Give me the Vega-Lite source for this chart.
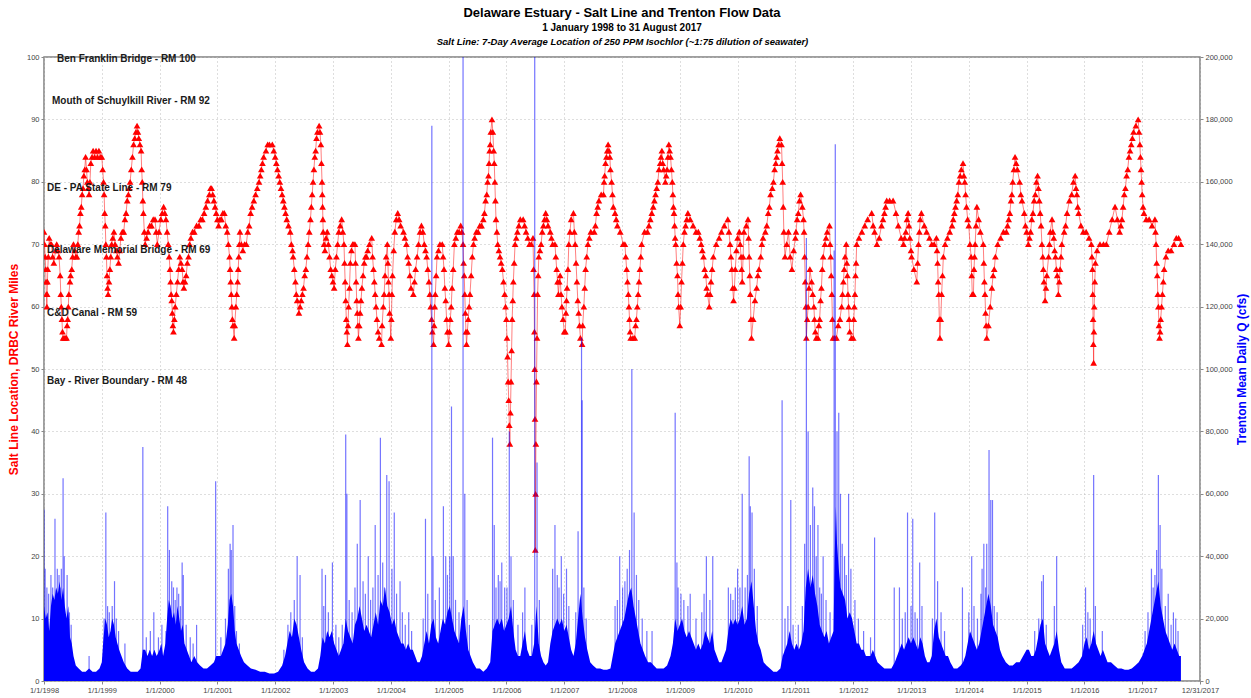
{
"$schema":"https://vega.github.io/schema/vega-lite/v6.json",
"width":1156,"height":624,
"autosize":{"type":"none"},
"padding":{"left":44,"top":57,"right":51,"bottom":17},
"background":"white",
"title":{"text":"Delaware Estuary - Salt Line and Trenton Flow Data","subtitle":"1 January 1998 to 31 August 2017","font":"Liberation Sans","fontSize":13,"fontWeight":"bold","color":"#000","subtitleFont":"Liberation Sans","subtitleFontSize":10,"subtitleFontWeight":"bold","subtitleColor":"#000","anchor":"middle","offset":3,"subtitlePadding":3},
"config":{"view":{"stroke":"#808080","strokeWidth":1.5},"font":"Liberation Sans",
"axis":{"labelFont":"Liberation Sans","labelFontSize":7.5,"labelColor":"#444","tickColor":"#888","tickSize":3,"domain":false,"gridColor":"#bdbdbd","gridDash":[1,3],"gridWidth":1,"titleFont":"Liberation Sans","titleFontWeight":"bold"}},
"datasets":{
"labels":[{"name":"Ben Franklin Bridge - RM 100","rm":100},{"name":"Mouth of Schuylkill River - RM 92","rm":92},{"name":"DE - PA State Line - RM 79","rm":79},{"name":"Delaware Memorial Bridge - RM 69","rm":69},{"name":"C&D Canal - RM 59","rm":59},{"name":"Bay - River Boundary - RM 48","rm":48}],
"salt":[{"t":1998.00,"s":72},{"t":1998.01,"s":70},{"t":1998.02,"s":68},{"t":1998.03,"s":66},{"t":1998.035,"s":64},{"t":1998.04,"s":62},{"t":1998.05,"s":60},{"t":1998.055,"s":62},{"t":1998.06,"s":64},{"t":1998.065,"s":66},{"t":1998.075,"s":68},{"t":1998.09,"s":71},{"t":1998.11,"s":70},{"t":1998.13,"s":70},{"t":1998.15,"s":68},{"t":1998.17,"s":67},{"t":1998.20,"s":69},{"t":1998.22,"s":70},{"t":1998.24,"s":69},{"t":1998.26,"s":68},{"t":1998.28,"s":65},{"t":1998.29,"s":62},{"t":1998.30,"s":60},{"t":1998.31,"s":58},{"t":1998.32,"s":56},{"t":1998.33,"s":55},{"t":1998.35,"s":55},{"t":1998.37,"s":55},{"t":1998.39,"s":55},{"t":1998.40,"s":57},{"t":1998.41,"s":58},{"t":1998.42,"s":60},{"t":1998.43,"s":62},{"t":1998.45,"s":64},{"t":1998.46,"s":65},{"t":1998.48,"s":66},{"t":1998.495,"s":68},{"t":1998.51,"s":70},{"t":1998.53,"s":69},{"t":1998.55,"s":68},{"t":1998.57,"s":68},{"t":1998.585,"s":70},{"t":1998.60,"s":72},{"t":1998.615,"s":73},{"t":1998.63,"s":75},{"t":1998.645,"s":76},{"t":1998.66,"s":78},{"t":1998.675,"s":79},{"t":1998.69,"s":81},{"t":1998.705,"s":82},{"t":1998.72,"s":84},{"t":1998.735,"s":82},{"t":1998.75,"s":80},{"t":1998.765,"s":79},{"t":1998.78,"s":78},{"t":1998.795,"s":80},{"t":1998.81,"s":83},{"t":1998.83,"s":84},{"t":1998.85,"s":85},{"t":1998.875,"s":84},{"t":1998.90,"s":85},{"t":1998.925,"s":84},{"t":1998.95,"s":85},{"t":1998.975,"s":84},{"t":1999.00,"s":84},{"t":1999.015,"s":82},{"t":1999.03,"s":80},{"t":1999.04,"s":78},{"t":1999.05,"s":75},{"t":1999.06,"s":73},{"t":1999.07,"s":70},{"t":1999.08,"s":68},{"t":1999.09,"s":65},{"t":1999.10,"s":63},{"t":1999.11,"s":62},{"t":1999.125,"s":64},{"t":1999.14,"s":66},{"t":1999.155,"s":68},{"t":1999.17,"s":70},{"t":1999.19,"s":71},{"t":1999.21,"s":72},{"t":1999.23,"s":70},{"t":1999.25,"s":69},{"t":1999.27,"s":68},{"t":1999.29,"s":67},{"t":1999.31,"s":69},{"t":1999.33,"s":71},{"t":1999.355,"s":72},{"t":1999.38,"s":72},{"t":1999.40,"s":74},{"t":1999.42,"s":75},{"t":1999.44,"s":77},{"t":1999.46,"s":78},{"t":1999.475,"s":79},{"t":1999.49,"s":80},{"t":1999.51,"s":82},{"t":1999.53,"s":84},{"t":1999.55,"s":86},{"t":1999.57,"s":87},{"t":1999.59,"s":88},{"t":1999.61,"s":89},{"t":1999.625,"s":88},{"t":1999.64,"s":87},{"t":1999.66,"s":86},{"t":1999.68,"s":85},{"t":1999.69,"s":82},{"t":1999.70,"s":80},{"t":1999.71,"s":77},{"t":1999.72,"s":75},{"t":1999.735,"s":72},{"t":1999.75,"s":70},{"t":1999.775,"s":71},{"t":1999.80,"s":72},{"t":1999.83,"s":73},{"t":1999.86,"s":73},{"t":1999.89,"s":74},{"t":1999.92,"s":74},{"t":1999.94,"s":72},{"t":1999.96,"s":70},{"t":1999.99,"s":72},{"t":2000.02,"s":74},{"t":2000.045,"s":75},{"t":2000.07,"s":76},{"t":2000.09,"s":75},{"t":2000.11,"s":74},{"t":2000.13,"s":72},{"t":2000.15,"s":70},{"t":2000.165,"s":68},{"t":2000.18,"s":66},{"t":2000.19,"s":64},{"t":2000.20,"s":62},{"t":2000.21,"s":61},{"t":2000.22,"s":59},{"t":2000.23,"s":57},{"t":2000.24,"s":56},{"t":2000.255,"s":58},{"t":2000.27,"s":60},{"t":2000.29,"s":62},{"t":2000.31,"s":64},{"t":2000.33,"s":66},{"t":2000.35,"s":68},{"t":2000.37,"s":67},{"t":2000.39,"s":66},{"t":2000.405,"s":64},{"t":2000.42,"s":63},{"t":2000.44,"s":64},{"t":2000.46,"s":65},{"t":2000.48,"s":67},{"t":2000.50,"s":68},{"t":2000.52,"s":70},{"t":2000.54,"s":71},{"t":2000.57,"s":72},{"t":2000.60,"s":72},{"t":2000.64,"s":73},{"t":2000.68,"s":73},{"t":2000.71,"s":74},{"t":2000.74,"s":74},{"t":2000.77,"s":75},{"t":2000.80,"s":76},{"t":2000.83,"s":77},{"t":2000.86,"s":78},{"t":2000.88,"s":79},{"t":2000.90,"s":79},{"t":2000.92,"s":78},{"t":2000.94,"s":77},{"t":2000.96,"s":76},{"t":2000.98,"s":75},{"t":2001.00,"s":74},{"t":2001.02,"s":73},{"t":2001.045,"s":74},{"t":2001.07,"s":74},{"t":2001.095,"s":75},{"t":2001.12,"s":75},{"t":2001.145,"s":73},{"t":2001.17,"s":72},{"t":2001.19,"s":70},{"t":2001.21,"s":68},{"t":2001.22,"s":66},{"t":2001.23,"s":64},{"t":2001.24,"s":62},{"t":2001.25,"s":60},{"t":2001.26,"s":58},{"t":2001.27,"s":57},{"t":2001.29,"s":55},{"t":2001.30,"s":57},{"t":2001.32,"s":60},{"t":2001.335,"s":62},{"t":2001.35,"s":64},{"t":2001.36,"s":66},{"t":2001.37,"s":68},{"t":2001.38,"s":70},{"t":2001.39,"s":72},{"t":2001.415,"s":70},{"t":2001.44,"s":69},{"t":2001.47,"s":70},{"t":2001.50,"s":70},{"t":2001.525,"s":72},{"t":2001.55,"s":73},{"t":2001.575,"s":75},{"t":2001.60,"s":76},{"t":2001.63,"s":77},{"t":2001.66,"s":78},{"t":2001.69,"s":79},{"t":2001.72,"s":80},{"t":2001.74,"s":81},{"t":2001.76,"s":82},{"t":2001.78,"s":83},{"t":2001.80,"s":84},{"t":2001.84,"s":85},{"t":2001.87,"s":86},{"t":2001.90,"s":86},{"t":2001.95,"s":86},{"t":2001.975,"s":85},{"t":2002.00,"s":84},{"t":2002.02,"s":83},{"t":2002.04,"s":82},{"t":2002.06,"s":81},{"t":2002.08,"s":80},{"t":2002.10,"s":79},{"t":2002.12,"s":78},{"t":2002.14,"s":77},{"t":2002.16,"s":76},{"t":2002.18,"s":75},{"t":2002.20,"s":74},{"t":2002.23,"s":73},{"t":2002.26,"s":72},{"t":2002.28,"s":70},{"t":2002.30,"s":69},{"t":2002.31,"s":68},{"t":2002.33,"s":66},{"t":2002.35,"s":64},{"t":2002.365,"s":62},{"t":2002.38,"s":61},{"t":2002.41,"s":59},{"t":2002.43,"s":60},{"t":2002.45,"s":61},{"t":2002.47,"s":62},{"t":2002.49,"s":63},{"t":2002.51,"s":65},{"t":2002.53,"s":66},{"t":2002.55,"s":68},{"t":2002.57,"s":70},{"t":2002.59,"s":72},{"t":2002.61,"s":74},{"t":2002.625,"s":76},{"t":2002.64,"s":78},{"t":2002.655,"s":80},{"t":2002.67,"s":82},{"t":2002.685,"s":84},{"t":2002.70,"s":85},{"t":2002.715,"s":87},{"t":2002.73,"s":88},{"t":2002.76,"s":89},{"t":2002.775,"s":88},{"t":2002.79,"s":86},{"t":2002.80,"s":83},{"t":2002.81,"s":80},{"t":2002.815,"s":78},{"t":2002.82,"s":76},{"t":2002.825,"s":74},{"t":2002.83,"s":72},{"t":2002.845,"s":70},{"t":2002.86,"s":69},{"t":2002.88,"s":71},{"t":2002.90,"s":72},{"t":2002.92,"s":70},{"t":2002.94,"s":68},{"t":2002.96,"s":66},{"t":2002.98,"s":65},{"t":2003.00,"s":64},{"t":2003.02,"s":63},{"t":2003.04,"s":66},{"t":2003.06,"s":68},{"t":2003.08,"s":70},{"t":2003.10,"s":72},{"t":2003.125,"s":73},{"t":2003.15,"s":74},{"t":2003.17,"s":72},{"t":2003.19,"s":70},{"t":2003.20,"s":67},{"t":2003.21,"s":64},{"t":2003.22,"s":61},{"t":2003.23,"s":58},{"t":2003.24,"s":56},{"t":2003.25,"s":54},{"t":2003.26,"s":57},{"t":2003.27,"s":60},{"t":2003.285,"s":63},{"t":2003.30,"s":67},{"t":2003.32,"s":69},{"t":2003.34,"s":70},{"t":2003.36,"s":70},{"t":2003.38,"s":70},{"t":2003.39,"s":67},{"t":2003.40,"s":64},{"t":2003.41,"s":61},{"t":2003.42,"s":59},{"t":2003.43,"s":57},{"t":2003.44,"s":55},{"t":2003.455,"s":57},{"t":2003.47,"s":59},{"t":2003.485,"s":61},{"t":2003.50,"s":63},{"t":2003.52,"s":65},{"t":2003.54,"s":67},{"t":2003.56,"s":68},{"t":2003.58,"s":68},{"t":2003.60,"s":69},{"t":2003.63,"s":70},{"t":2003.67,"s":71},{"t":2003.685,"s":68},{"t":2003.70,"s":66},{"t":2003.715,"s":64},{"t":2003.73,"s":62},{"t":2003.745,"s":60},{"t":2003.76,"s":58},{"t":2003.78,"s":56},{"t":2003.80,"s":55},{"t":2003.84,"s":54},{"t":2003.85,"s":57},{"t":2003.87,"s":60},{"t":2003.885,"s":62},{"t":2003.90,"s":65},{"t":2003.92,"s":68},{"t":2003.94,"s":70},{"t":2003.95,"s":67},{"t":2003.96,"s":64},{"t":2003.97,"s":62},{"t":2003.98,"s":59},{"t":2004.00,"s":55},{"t":2004.01,"s":58},{"t":2004.02,"s":62},{"t":2004.03,"s":65},{"t":2004.05,"s":69},{"t":2004.07,"s":72},{"t":2004.095,"s":74},{"t":2004.12,"s":75},{"t":2004.145,"s":74},{"t":2004.17,"s":73},{"t":2004.22,"s":72},{"t":2004.245,"s":71},{"t":2004.27,"s":70},{"t":2004.29,"s":68},{"t":2004.31,"s":67},{"t":2004.33,"s":65},{"t":2004.35,"s":63},{"t":2004.39,"s":62},{"t":2004.41,"s":64},{"t":2004.43,"s":66},{"t":2004.455,"s":68},{"t":2004.48,"s":70},{"t":2004.505,"s":72},{"t":2004.53,"s":73},{"t":2004.555,"s":72},{"t":2004.58,"s":70},{"t":2004.60,"s":69},{"t":2004.62,"s":68},{"t":2004.64,"s":66},{"t":2004.66,"s":64},{"t":2004.675,"s":62},{"t":2004.69,"s":60},{"t":2004.705,"s":58},{"t":2004.72,"s":56},{"t":2004.74,"s":54},{"t":2004.75,"s":57},{"t":2004.76,"s":60},{"t":2004.77,"s":62},{"t":2004.785,"s":65},{"t":2004.80,"s":68},{"t":2004.825,"s":69},{"t":2004.85,"s":70},{"t":2004.89,"s":70},{"t":2004.905,"s":68},{"t":2004.92,"s":66},{"t":2004.935,"s":63},{"t":2004.95,"s":61},{"t":2004.965,"s":58},{"t":2004.98,"s":56},{"t":2005.00,"s":54},{"t":2005.015,"s":56},{"t":2005.03,"s":58},{"t":2005.045,"s":60},{"t":2005.06,"s":63},{"t":2005.08,"s":66},{"t":2005.10,"s":70},{"t":2005.125,"s":71},{"t":2005.15,"s":72},{"t":2005.18,"s":72},{"t":2005.21,"s":73},{"t":2005.23,"s":72},{"t":2005.25,"s":70},{"t":2005.26,"s":67},{"t":2005.27,"s":65},{"t":2005.28,"s":62},{"t":2005.29,"s":59},{"t":2005.30,"s":56},{"t":2005.31,"s":54},{"t":2005.325,"s":56},{"t":2005.34,"s":58},{"t":2005.355,"s":60},{"t":2005.37,"s":62},{"t":2005.39,"s":65},{"t":2005.41,"s":68},{"t":2005.43,"s":70},{"t":2005.45,"s":71},{"t":2005.48,"s":72},{"t":2005.51,"s":72},{"t":2005.54,"s":73},{"t":2005.57,"s":73},{"t":2005.60,"s":74},{"t":2005.62,"s":75},{"t":2005.64,"s":77},{"t":2005.66,"s":78},{"t":2005.675,"s":80},{"t":2005.69,"s":81},{"t":2005.70,"s":83},{"t":2005.71,"s":85},{"t":2005.72,"s":86},{"t":2005.73,"s":88},{"t":2005.75,"s":90},{"t":2005.765,"s":88},{"t":2005.78,"s":85},{"t":2005.79,"s":83},{"t":2005.80,"s":80},{"t":2005.81,"s":77},{"t":2005.82,"s":74},{"t":2005.835,"s":72},{"t":2005.85,"s":70},{"t":2005.87,"s":69},{"t":2005.89,"s":68},{"t":2005.91,"s":67},{"t":2005.93,"s":66},{"t":2005.95,"s":64},{"t":2005.97,"s":62},{"t":2005.985,"s":60},{"t":2006.00,"s":58},{"t":2006.01,"s":55},{"t":2006.02,"s":52},{"t":2006.03,"s":48},{"t":2006.04,"s":45},{"t":2006.05,"s":41},{"t":2006.06,"s":38},{"t":2006.07,"s":43},{"t":2006.08,"s":48},{"t":2006.09,"s":53},{"t":2006.10,"s":58},{"t":2006.11,"s":61},{"t":2006.12,"s":64},{"t":2006.135,"s":67},{"t":2006.15,"s":70},{"t":2006.17,"s":71},{"t":2006.19,"s":72},{"t":2006.215,"s":73},{"t":2006.24,"s":74},{"t":2006.29,"s":74},{"t":2006.315,"s":73},{"t":2006.34,"s":72},{"t":2006.37,"s":71},{"t":2006.40,"s":70},{"t":2006.43,"s":70},{"t":2006.46,"s":71},{"t":2006.47,"s":66},{"t":2006.48,"s":62},{"t":2006.485,"s":56},{"t":2006.49,"s":50},{"t":2006.495,"s":42},{"t":2006.50,"s":21},{"t":2006.505,"s":30},{"t":2006.51,"s":38},{"t":2006.52,"s":48},{"t":2006.53,"s":55},{"t":2006.54,"s":62},{"t":2006.55,"s":65},{"t":2006.56,"s":68},{"t":2006.58,"s":69},{"t":2006.60,"s":70},{"t":2006.62,"s":72},{"t":2006.64,"s":73},{"t":2006.66,"s":74},{"t":2006.68,"s":75},{"t":2006.70,"s":74},{"t":2006.72,"s":73},{"t":2006.76,"s":72},{"t":2006.78,"s":71},{"t":2006.80,"s":70},{"t":2006.84,"s":70},{"t":2006.855,"s":68},{"t":2006.87,"s":66},{"t":2006.885,"s":64},{"t":2006.90,"s":62},{"t":2006.915,"s":64},{"t":2006.93,"s":65},{"t":2006.945,"s":62},{"t":2006.96,"s":60},{"t":2006.98,"s":58},{"t":2007.00,"s":56},{"t":2007.02,"s":56},{"t":2007.03,"s":59},{"t":2007.04,"s":61},{"t":2007.05,"s":63},{"t":2007.065,"s":66},{"t":2007.08,"s":70},{"t":2007.10,"s":72},{"t":2007.12,"s":74},{"t":2007.16,"s":75},{"t":2007.175,"s":72},{"t":2007.19,"s":70},{"t":2007.205,"s":67},{"t":2007.22,"s":64},{"t":2007.235,"s":61},{"t":2007.25,"s":59},{"t":2007.265,"s":57},{"t":2007.28,"s":55},{"t":2007.31,"s":54},{"t":2007.32,"s":57},{"t":2007.34,"s":60},{"t":2007.355,"s":63},{"t":2007.37,"s":66},{"t":2007.39,"s":68},{"t":2007.41,"s":70},{"t":2007.435,"s":71},{"t":2007.46,"s":72},{"t":2007.52,"s":72},{"t":2007.54,"s":73},{"t":2007.56,"s":75},{"t":2007.58,"s":76},{"t":2007.60,"s":77},{"t":2007.64,"s":78},{"t":2007.68,"s":78},{"t":2007.69,"s":80},{"t":2007.70,"s":81},{"t":2007.715,"s":83},{"t":2007.73,"s":84},{"t":2007.745,"s":85},{"t":2007.76,"s":86},{"t":2007.775,"s":85},{"t":2007.79,"s":84},{"t":2007.80,"s":82},{"t":2007.82,"s":80},{"t":2007.835,"s":78},{"t":2007.85,"s":76},{"t":2007.88,"s":75},{"t":2007.90,"s":74},{"t":2007.92,"s":73},{"t":2007.97,"s":72},{"t":2008.02,"s":70},{"t":2008.05,"s":70},{"t":2008.065,"s":68},{"t":2008.08,"s":66},{"t":2008.095,"s":64},{"t":2008.11,"s":62},{"t":2008.12,"s":60},{"t":2008.13,"s":58},{"t":2008.14,"s":56},{"t":2008.15,"s":55},{"t":2008.19,"s":55},{"t":2008.22,"s":55},{"t":2008.235,"s":57},{"t":2008.25,"s":58},{"t":2008.265,"s":60},{"t":2008.28,"s":62},{"t":2008.295,"s":64},{"t":2008.31,"s":66},{"t":2008.325,"s":68},{"t":2008.34,"s":70},{"t":2008.39,"s":72},{"t":2008.44,"s":72},{"t":2008.465,"s":73},{"t":2008.49,"s":74},{"t":2008.515,"s":75},{"t":2008.54,"s":76},{"t":2008.56,"s":77},{"t":2008.58,"s":78},{"t":2008.60,"s":79},{"t":2008.62,"s":80},{"t":2008.64,"s":82},{"t":2008.66,"s":83},{"t":2008.675,"s":84},{"t":2008.69,"s":85},{"t":2008.705,"s":83},{"t":2008.72,"s":82},{"t":2008.75,"s":80},{"t":2008.765,"s":81},{"t":2008.78,"s":82},{"t":2008.795,"s":84},{"t":2008.81,"s":86},{"t":2008.825,"s":85},{"t":2008.84,"s":84},{"t":2008.855,"s":82},{"t":2008.87,"s":80},{"t":2008.88,"s":78},{"t":2008.89,"s":76},{"t":2008.90,"s":75},{"t":2008.91,"s":73},{"t":2008.92,"s":71},{"t":2008.93,"s":70},{"t":2008.945,"s":67},{"t":2008.96,"s":65},{"t":2008.97,"s":62},{"t":2008.98,"s":60},{"t":2009.00,"s":57},{"t":2009.015,"s":60},{"t":2009.03,"s":64},{"t":2009.045,"s":67},{"t":2009.06,"s":70},{"t":2009.08,"s":72},{"t":2009.10,"s":73},{"t":2009.12,"s":74},{"t":2009.14,"s":75},{"t":2009.18,"s":74},{"t":2009.23,"s":73},{"t":2009.28,"s":72},{"t":2009.32,"s":72},{"t":2009.345,"s":71},{"t":2009.37,"s":70},{"t":2009.39,"s":69},{"t":2009.41,"s":68},{"t":2009.43,"s":66},{"t":2009.45,"s":65},{"t":2009.465,"s":63},{"t":2009.48,"s":62},{"t":2009.51,"s":60},{"t":2009.525,"s":62},{"t":2009.54,"s":64},{"t":2009.56,"s":66},{"t":2009.58,"s":68},{"t":2009.63,"s":70},{"t":2009.68,"s":71},{"t":2009.72,"s":72},{"t":2009.77,"s":73},{"t":2009.83,"s":74},{"t":2009.85,"s":72},{"t":2009.87,"s":70},{"t":2009.885,"s":68},{"t":2009.90,"s":66},{"t":2009.915,"s":63},{"t":2009.93,"s":61},{"t":2009.945,"s":63},{"t":2009.96,"s":66},{"t":2009.98,"s":69},{"t":2010.00,"s":71},{"t":2010.03,"s":72},{"t":2010.045,"s":70},{"t":2010.06,"s":68},{"t":2010.07,"s":66},{"t":2010.08,"s":64},{"t":2010.095,"s":68},{"t":2010.11,"s":72},{"t":2010.15,"s":73},{"t":2010.18,"s":74},{"t":2010.19,"s":71},{"t":2010.20,"s":68},{"t":2010.21,"s":65},{"t":2010.22,"s":62},{"t":2010.23,"s":58},{"t":2010.24,"s":55},{"t":2010.27,"s":58},{"t":2010.30,"s":61},{"t":2010.33,"s":63},{"t":2010.35,"s":65},{"t":2010.37,"s":66},{"t":2010.40,"s":68},{"t":2010.42,"s":70},{"t":2010.44,"s":71},{"t":2010.48,"s":72},{"t":2010.505,"s":73},{"t":2010.53,"s":75},{"t":2010.55,"s":76},{"t":2010.57,"s":78},{"t":2010.60,"s":79},{"t":2010.62,"s":80},{"t":2010.64,"s":82},{"t":2010.66,"s":83},{"t":2010.675,"s":84},{"t":2010.69,"s":85},{"t":2010.71,"s":86},{"t":2010.73,"s":87},{"t":2010.76,"s":86},{"t":2010.77,"s":83},{"t":2010.78,"s":80},{"t":2010.79,"s":76},{"t":2010.80,"s":72},{"t":2010.82,"s":68},{"t":2010.85,"s":70},{"t":2010.88,"s":72},{"t":2010.91,"s":68},{"t":2010.94,"s":66},{"t":2010.97,"s":69},{"t":2011.00,"s":71},{"t":2011.01,"s":72},{"t":2011.03,"s":74},{"t":2011.05,"s":75},{"t":2011.07,"s":77},{"t":2011.09,"s":78},{"t":2011.12,"s":76},{"t":2011.14,"s":74},{"t":2011.15,"s":72},{"t":2011.16,"s":68},{"t":2011.17,"s":64},{"t":2011.18,"s":60},{"t":2011.19,"s":55},{"t":2011.205,"s":58},{"t":2011.22,"s":60},{"t":2011.235,"s":63},{"t":2011.25,"s":66},{"t":2011.28,"s":64},{"t":2011.30,"s":62},{"t":2011.32,"s":60},{"t":2011.33,"s":58},{"t":2011.345,"s":56},{"t":2011.36,"s":55},{"t":2011.39,"s":55},{"t":2011.405,"s":57},{"t":2011.42,"s":58},{"t":2011.435,"s":61},{"t":2011.45,"s":63},{"t":2011.465,"s":66},{"t":2011.48,"s":68},{"t":2011.51,"s":70},{"t":2011.53,"s":71},{"t":2011.55,"s":72},{"t":2011.59,"s":73},{"t":2011.60,"s":70},{"t":2011.61,"s":68},{"t":2011.62,"s":65},{"t":2011.63,"s":62},{"t":2011.64,"s":58},{"t":2011.65,"s":55},{"t":2011.68,"s":55},{"t":2011.71,"s":55},{"t":2011.74,"s":57},{"t":2011.77,"s":58},{"t":2011.80,"s":60},{"t":2011.815,"s":62},{"t":2011.83,"s":64},{"t":2011.845,"s":66},{"t":2011.86,"s":68},{"t":2011.88,"s":70},{"t":2011.89,"s":67},{"t":2011.90,"s":65},{"t":2011.91,"s":62},{"t":2011.92,"s":60},{"t":2011.93,"s":58},{"t":2011.94,"s":56},{"t":2011.97,"s":55},{"t":2012.00,"s":55},{"t":2012.01,"s":58},{"t":2012.02,"s":60},{"t":2012.03,"s":62},{"t":2012.04,"s":65},{"t":2012.05,"s":67},{"t":2012.06,"s":70},{"t":2012.10,"s":71},{"t":2012.15,"s":72},{"t":2012.20,"s":73},{"t":2012.25,"s":74},{"t":2012.32,"s":75},{"t":2012.345,"s":73},{"t":2012.37,"s":72},{"t":2012.41,"s":70},{"t":2012.45,"s":71},{"t":2012.49,"s":73},{"t":2012.515,"s":74},{"t":2012.54,"s":75},{"t":2012.56,"s":76},{"t":2012.58,"s":77},{"t":2012.63,"s":77},{"t":2012.69,"s":77},{"t":2012.74,"s":75},{"t":2012.78,"s":73},{"t":2012.83,"s":71},{"t":2012.87,"s":70},{"t":2012.89,"s":71},{"t":2012.91,"s":72},{"t":2012.93,"s":74},{"t":2012.95,"s":75},{"t":2012.965,"s":73},{"t":2012.98,"s":71},{"t":2013.00,"s":69},{"t":2013.01,"s":68},{"t":2013.05,"s":66},{"t":2013.10,"s":64},{"t":2013.115,"s":67},{"t":2013.13,"s":70},{"t":2013.145,"s":72},{"t":2013.16,"s":74},{"t":2013.18,"s":75},{"t":2013.23,"s":73},{"t":2013.27,"s":72},{"t":2013.32,"s":71},{"t":2013.36,"s":70},{"t":2013.40,"s":70},{"t":2013.44,"s":71},{"t":2013.45,"s":69},{"t":2013.46,"s":67},{"t":2013.47,"s":64},{"t":2013.48,"s":62},{"t":2013.49,"s":58},{"t":2013.50,"s":55},{"t":2013.515,"s":58},{"t":2013.53,"s":62},{"t":2013.545,"s":65},{"t":2013.56,"s":68},{"t":2013.59,"s":70},{"t":2013.63,"s":71},{"t":2013.67,"s":72},{"t":2013.71,"s":73},{"t":2013.73,"s":74},{"t":2013.75,"s":75},{"t":2013.77,"s":76},{"t":2013.79,"s":77},{"t":2013.81,"s":78},{"t":2013.83,"s":80},{"t":2013.85,"s":81},{"t":2013.87,"s":82},{"t":2013.90,"s":83},{"t":2013.915,"s":81},{"t":2013.93,"s":80},{"t":2013.945,"s":78},{"t":2013.96,"s":76},{"t":2013.98,"s":74},{"t":2014.00,"s":73},{"t":2014.02,"s":70},{"t":2014.04,"s":68},{"t":2014.05,"s":65},{"t":2014.06,"s":62},{"t":2014.08,"s":62},{"t":2014.09,"s":66},{"t":2014.10,"s":68},{"t":2014.11,"s":70},{"t":2014.125,"s":73},{"t":2014.14,"s":76},{"t":2014.17,"s":74},{"t":2014.20,"s":72},{"t":2014.25,"s":70},{"t":2014.26,"s":67},{"t":2014.27,"s":64},{"t":2014.28,"s":62},{"t":2014.29,"s":59},{"t":2014.30,"s":57},{"t":2014.31,"s":55},{"t":2014.34,"s":57},{"t":2014.37,"s":60},{"t":2014.40,"s":63},{"t":2014.42,"s":65},{"t":2014.44,"s":66},{"t":2014.46,"s":68},{"t":2014.50,"s":70},{"t":2014.55,"s":71},{"t":2014.60,"s":72},{"t":2014.65,"s":72},{"t":2014.67,"s":73},{"t":2014.69,"s":74},{"t":2014.71,"s":75},{"t":2014.73,"s":77},{"t":2014.745,"s":78},{"t":2014.76,"s":80},{"t":2014.78,"s":82},{"t":2014.80,"s":84},{"t":2014.82,"s":83},{"t":2014.84,"s":82},{"t":2014.88,"s":80},{"t":2014.90,"s":78},{"t":2014.92,"s":77},{"t":2014.96,"s":75},{"t":2014.98,"s":73},{"t":2015.00,"s":72},{"t":2015.03,"s":70},{"t":2015.05,"s":71},{"t":2015.07,"s":72},{"t":2015.09,"s":74},{"t":2015.11,"s":75},{"t":2015.13,"s":77},{"t":2015.15,"s":78},{"t":2015.17,"s":80},{"t":2015.19,"s":81},{"t":2015.205,"s":79},{"t":2015.22,"s":77},{"t":2015.235,"s":75},{"t":2015.25,"s":73},{"t":2015.265,"s":70},{"t":2015.28,"s":68},{"t":2015.29,"s":66},{"t":2015.30,"s":64},{"t":2015.32,"s":61},{"t":2015.335,"s":63},{"t":2015.35,"s":65},{"t":2015.38,"s":68},{"t":2015.395,"s":70},{"t":2015.41,"s":72},{"t":2015.44,"s":74},{"t":2015.455,"s":72},{"t":2015.47,"s":71},{"t":2015.485,"s":69},{"t":2015.50,"s":68},{"t":2015.515,"s":66},{"t":2015.53,"s":65},{"t":2015.55,"s":62},{"t":2015.565,"s":64},{"t":2015.58,"s":66},{"t":2015.595,"s":68},{"t":2015.61,"s":70},{"t":2015.65,"s":72},{"t":2015.675,"s":73},{"t":2015.70,"s":75},{"t":2015.74,"s":77},{"t":2015.78,"s":78},{"t":2015.81,"s":80},{"t":2015.84,"s":81},{"t":2015.855,"s":79},{"t":2015.87,"s":78},{"t":2015.885,"s":76},{"t":2015.90,"s":75},{"t":2015.94,"s":73},{"t":2015.98,"s":72},{"t":2016.03,"s":72},{"t":2016.08,"s":71},{"t":2016.12,"s":70},{"t":2016.13,"s":68},{"t":2016.14,"s":66},{"t":2016.145,"s":62},{"t":2016.15,"s":58},{"t":2016.155,"s":54},{"t":2016.16,"s":51},{"t":2016.165,"s":56},{"t":2016.17,"s":60},{"t":2016.18,"s":64},{"t":2016.19,"s":67},{"t":2016.22,"s":69},{"t":2016.27,"s":70},{"t":2016.33,"s":70},{"t":2016.38,"s":70},{"t":2016.43,"s":72},{"t":2016.48,"s":74},{"t":2016.53,"s":76},{"t":2016.57,"s":74},{"t":2016.61,"s":72},{"t":2016.63,"s":73},{"t":2016.65,"s":74},{"t":2016.67,"s":76},{"t":2016.69,"s":78},{"t":2016.71,"s":79},{"t":2016.73,"s":81},{"t":2016.75,"s":82},{"t":2016.77,"s":84},{"t":2016.79,"s":85},{"t":2016.81,"s":86},{"t":2016.83,"s":87},{"t":2016.85,"s":88},{"t":2016.89,"s":89},{"t":2016.93,"s":90},{"t":2016.945,"s":88},{"t":2016.96,"s":86},{"t":2016.97,"s":84},{"t":2016.98,"s":82},{"t":2016.99,"s":80},{"t":2017.00,"s":78},{"t":2017.015,"s":76},{"t":2017.03,"s":75},{"t":2017.07,"s":74},{"t":2017.12,"s":74},{"t":2017.17,"s":73},{"t":2017.22,"s":74},{"t":2017.23,"s":72},{"t":2017.24,"s":70},{"t":2017.25,"s":67},{"t":2017.26,"s":65},{"t":2017.27,"s":62},{"t":2017.28,"s":60},{"t":2017.29,"s":57},{"t":2017.30,"s":55},{"t":2017.31,"s":56},{"t":2017.32,"s":58},{"t":2017.335,"s":60},{"t":2017.35,"s":62},{"t":2017.365,"s":64},{"t":2017.38,"s":66},{"t":2017.41,"s":68},{"t":2017.45,"s":69},{"t":2017.50,"s":69},{"t":2017.55,"s":70},{"t":2017.59,"s":71},{"t":2017.63,"s":71},{"t":2017.67,"s":70}],
"base":[{"t":1998.00,"q":24000},{"t":1998.03,"q":20000},{"t":1998.06,"q":22000},{"t":1998.09,"q":16000},{"t":1998.12,"q":24000},{"t":1998.15,"q":28000},{"t":1998.18,"q":26000},{"t":1998.21,"q":30000},{"t":1998.24,"q":28000},{"t":1998.27,"q":32000},{"t":1998.30,"q":26000},{"t":1998.33,"q":30000},{"t":1998.36,"q":24000},{"t":1998.39,"q":20000},{"t":1998.42,"q":24000},{"t":1998.45,"q":14000},{"t":1998.48,"q":12000},{"t":1998.51,"q":8000},{"t":1998.55,"q":5000},{"t":1998.60,"q":4000},{"t":1998.66,"q":3000},{"t":1998.72,"q":3000},{"t":1998.78,"q":4000},{"t":1998.84,"q":3000},{"t":1998.90,"q":3000},{"t":1998.96,"q":4000},{"t":1999.00,"q":6000},{"t":1999.03,"q":14000},{"t":1999.06,"q":20000},{"t":1999.09,"q":18000},{"t":1999.12,"q":14000},{"t":1999.15,"q":16000},{"t":1999.18,"q":20000},{"t":1999.21,"q":18000},{"t":1999.24,"q":14000},{"t":1999.27,"q":12000},{"t":1999.30,"q":10000},{"t":1999.34,"q":8000},{"t":1999.38,"q":6000},{"t":1999.44,"q":4000},{"t":1999.50,"q":3000},{"t":1999.56,"q":3000},{"t":1999.62,"q":3000},{"t":1999.67,"q":4000},{"t":1999.71,"q":10000},{"t":1999.75,"q":10000},{"t":1999.79,"q":8000},{"t":1999.83,"q":10000},{"t":1999.87,"q":8000},{"t":1999.91,"q":10000},{"t":1999.95,"q":8000},{"t":2000.00,"q":10000},{"t":2000.03,"q":12000},{"t":2000.06,"q":8000},{"t":2000.10,"q":12000},{"t":2000.13,"q":20000},{"t":2000.16,"q":26000},{"t":2000.19,"q":24000},{"t":2000.22,"q":20000},{"t":2000.25,"q":22000},{"t":2000.28,"q":18000},{"t":2000.31,"q":24000},{"t":2000.34,"q":20000},{"t":2000.37,"q":16000},{"t":2000.40,"q":18000},{"t":2000.43,"q":12000},{"t":2000.47,"q":10000},{"t":2000.51,"q":8000},{"t":2000.55,"q":6000},{"t":2000.60,"q":8000},{"t":2000.65,"q":6000},{"t":2000.70,"q":5000},{"t":2000.76,"q":4000},{"t":2000.82,"q":4000},{"t":2000.88,"q":5000},{"t":2000.94,"q":6000},{"t":2000.98,"q":8000},{"t":2001.02,"q":8000},{"t":2001.06,"q":8000},{"t":2001.10,"q":10000},{"t":2001.14,"q":12000},{"t":2001.18,"q":18000},{"t":2001.21,"q":26000},{"t":2001.24,"q":28000},{"t":2001.27,"q":24000},{"t":2001.30,"q":16000},{"t":2001.33,"q":12000},{"t":2001.37,"q":10000},{"t":2001.41,"q":8000},{"t":2001.46,"q":6000},{"t":2001.52,"q":5000},{"t":2001.58,"q":4000},{"t":2001.66,"q":3600},{"t":2001.74,"q":3000},{"t":2001.82,"q":3000},{"t":2001.90,"q":2400},{"t":2001.98,"q":2400},{"t":2002.05,"q":3000},{"t":2002.12,"q":5000},{"t":2002.17,"q":8000},{"t":2002.21,"q":12000},{"t":2002.25,"q":16000},{"t":2002.29,"q":14000},{"t":2002.33,"q":20000},{"t":2002.37,"q":18000},{"t":2002.41,"q":14000},{"t":2002.45,"q":10000},{"t":2002.50,"q":6000},{"t":2002.56,"q":4000},{"t":2002.62,"q":3000},{"t":2002.68,"q":3000},{"t":2002.74,"q":4000},{"t":2002.78,"q":8000},{"t":2002.82,"q":14000},{"t":2002.86,"q":12000},{"t":2002.90,"q":16000},{"t":2002.94,"q":14000},{"t":2002.98,"q":16000},{"t":2003.02,"q":12000},{"t":2003.06,"q":10000},{"t":2003.10,"q":8000},{"t":2003.14,"q":10000},{"t":2003.18,"q":12000},{"t":2003.22,"q":20000},{"t":2003.26,"q":16000},{"t":2003.30,"q":14000},{"t":2003.34,"q":12000},{"t":2003.38,"q":18000},{"t":2003.42,"q":20000},{"t":2003.46,"q":24000},{"t":2003.50,"q":20000},{"t":2003.54,"q":16000},{"t":2003.58,"q":18000},{"t":2003.62,"q":16000},{"t":2003.66,"q":14000},{"t":2003.70,"q":18000},{"t":2003.74,"q":22000},{"t":2003.78,"q":18000},{"t":2003.82,"q":26000},{"t":2003.86,"q":24000},{"t":2003.90,"q":30000},{"t":2003.94,"q":24000},{"t":2003.98,"q":22000},{"t":2004.02,"q":18000},{"t":2004.06,"q":20000},{"t":2004.10,"q":16000},{"t":2004.14,"q":14000},{"t":2004.18,"q":12000},{"t":2004.22,"q":12000},{"t":2004.26,"q":10000},{"t":2004.30,"q":12000},{"t":2004.34,"q":10000},{"t":2004.38,"q":10000},{"t":2004.42,"q":8000},{"t":2004.46,"q":6000},{"t":2004.50,"q":6000},{"t":2004.54,"q":8000},{"t":2004.58,"q":12000},{"t":2004.62,"q":16000},{"t":2004.66,"q":12000},{"t":2004.70,"q":18000},{"t":2004.74,"q":20000},{"t":2004.78,"q":14000},{"t":2004.82,"q":12000},{"t":2004.86,"q":16000},{"t":2004.90,"q":20000},{"t":2004.94,"q":18000},{"t":2004.98,"q":22000},{"t":2005.02,"q":24000},{"t":2005.06,"q":20000},{"t":2005.10,"q":16000},{"t":2005.14,"q":14000},{"t":2005.18,"q":12000},{"t":2005.22,"q":20000},{"t":2005.26,"q":24000},{"t":2005.30,"q":16000},{"t":2005.34,"q":10000},{"t":2005.38,"q":8000},{"t":2005.42,"q":6000},{"t":2005.48,"q":4000},{"t":2005.54,"q":4000},{"t":2005.60,"q":3000},{"t":2005.66,"q":4000},{"t":2005.72,"q":6000},{"t":2005.76,"q":16000},{"t":2005.80,"q":18000},{"t":2005.84,"q":20000},{"t":2005.88,"q":18000},{"t":2005.92,"q":20000},{"t":2005.96,"q":16000},{"t":2006.00,"q":18000},{"t":2006.04,"q":20000},{"t":2006.08,"q":24000},{"t":2006.12,"q":16000},{"t":2006.16,"q":10000},{"t":2006.20,"q":8000},{"t":2006.24,"q":8000},{"t":2006.28,"q":12000},{"t":2006.32,"q":16000},{"t":2006.36,"q":10000},{"t":2006.40,"q":8000},{"t":2006.44,"q":8000},{"t":2006.48,"q":12000},{"t":2006.52,"q":24000},{"t":2006.56,"q":12000},{"t":2006.60,"q":8000},{"t":2006.64,"q":6000},{"t":2006.68,"q":5000},{"t":2006.72,"q":6000},{"t":2006.76,"q":12000},{"t":2006.80,"q":16000},{"t":2006.84,"q":18000},{"t":2006.88,"q":20000},{"t":2006.92,"q":18000},{"t":2006.96,"q":20000},{"t":2007.00,"q":16000},{"t":2007.04,"q":18000},{"t":2007.08,"q":14000},{"t":2007.12,"q":10000},{"t":2007.16,"q":8000},{"t":2007.20,"q":12000},{"t":2007.24,"q":20000},{"t":2007.28,"q":28000},{"t":2007.32,"q":20000},{"t":2007.36,"q":14000},{"t":2007.40,"q":10000},{"t":2007.45,"q":6000},{"t":2007.50,"q":5000},{"t":2007.56,"q":4000},{"t":2007.62,"q":4000},{"t":2007.68,"q":3600},{"t":2007.74,"q":3600},{"t":2007.80,"q":4000},{"t":2007.84,"q":8000},{"t":2007.88,"q":12000},{"t":2007.92,"q":14000},{"t":2007.96,"q":16000},{"t":2008.00,"q":18000},{"t":2008.04,"q":20000},{"t":2008.08,"q":24000},{"t":2008.12,"q":28000},{"t":2008.16,"q":30000},{"t":2008.20,"q":24000},{"t":2008.24,"q":20000},{"t":2008.28,"q":16000},{"t":2008.32,"q":12000},{"t":2008.36,"q":10000},{"t":2008.40,"q":8000},{"t":2008.45,"q":6000},{"t":2008.50,"q":6000},{"t":2008.55,"q":5000},{"t":2008.60,"q":4000},{"t":2008.66,"q":4000},{"t":2008.72,"q":4000},{"t":2008.78,"q":5000},{"t":2008.84,"q":8000},{"t":2008.88,"q":12000},{"t":2008.92,"q":20000},{"t":2008.96,"q":16000},{"t":2009.00,"q":18000},{"t":2009.04,"q":20000},{"t":2009.08,"q":16000},{"t":2009.12,"q":14000},{"t":2009.16,"q":16000},{"t":2009.20,"q":14000},{"t":2009.24,"q":12000},{"t":2009.28,"q":10000},{"t":2009.32,"q":12000},{"t":2009.36,"q":10000},{"t":2009.40,"q":12000},{"t":2009.44,"q":16000},{"t":2009.48,"q":14000},{"t":2009.52,"q":12000},{"t":2009.56,"q":16000},{"t":2009.60,"q":10000},{"t":2009.64,"q":8000},{"t":2009.68,"q":6000},{"t":2009.72,"q":6000},{"t":2009.76,"q":8000},{"t":2009.80,"q":10000},{"t":2009.84,"q":16000},{"t":2009.88,"q":20000},{"t":2009.92,"q":18000},{"t":2009.96,"q":20000},{"t":2010.00,"q":18000},{"t":2010.04,"q":20000},{"t":2010.08,"q":24000},{"t":2010.12,"q":18000},{"t":2010.16,"q":20000},{"t":2010.20,"q":28000},{"t":2010.24,"q":32000},{"t":2010.28,"q":24000},{"t":2010.32,"q":16000},{"t":2010.36,"q":12000},{"t":2010.40,"q":10000},{"t":2010.45,"q":6000},{"t":2010.50,"q":5000},{"t":2010.56,"q":4000},{"t":2010.62,"q":3000},{"t":2010.68,"q":3000},{"t":2010.74,"q":4000},{"t":2010.78,"q":8000},{"t":2010.82,"q":10000},{"t":2010.86,"q":12000},{"t":2010.90,"q":16000},{"t":2010.94,"q":12000},{"t":2010.98,"q":10000},{"t":2011.02,"q":12000},{"t":2011.06,"q":10000},{"t":2011.10,"q":12000},{"t":2011.14,"q":16000},{"t":2011.18,"q":30000},{"t":2011.22,"q":36000},{"t":2011.26,"q":30000},{"t":2011.30,"q":34000},{"t":2011.34,"q":28000},{"t":2011.38,"q":24000},{"t":2011.42,"q":18000},{"t":2011.46,"q":16000},{"t":2011.50,"q":14000},{"t":2011.54,"q":16000},{"t":2011.58,"q":12000},{"t":2011.62,"q":14000},{"t":2011.66,"q":16000},{"t":2011.68,"q":40000},{"t":2011.70,"q":56000},{"t":2011.72,"q":44000},{"t":2011.75,"q":36000},{"t":2011.78,"q":30000},{"t":2011.82,"q":28000},{"t":2011.86,"q":26000},{"t":2011.90,"q":20000},{"t":2011.94,"q":22000},{"t":2011.98,"q":20000},{"t":2012.02,"q":16000},{"t":2012.06,"q":12000},{"t":2012.10,"q":12000},{"t":2012.14,"q":10000},{"t":2012.18,"q":10000},{"t":2012.22,"q":8000},{"t":2012.26,"q":8000},{"t":2012.30,"q":8000},{"t":2012.34,"q":10000},{"t":2012.38,"q":8000},{"t":2012.42,"q":6000},{"t":2012.48,"q":5000},{"t":2012.54,"q":4000},{"t":2012.60,"q":4000},{"t":2012.66,"q":4000},{"t":2012.72,"q":6000},{"t":2012.76,"q":8000},{"t":2012.80,"q":10000},{"t":2012.84,"q":12000},{"t":2012.88,"q":10000},{"t":2012.92,"q":12000},{"t":2012.96,"q":14000},{"t":2013.00,"q":12000},{"t":2013.04,"q":14000},{"t":2013.08,"q":12000},{"t":2013.12,"q":10000},{"t":2013.16,"q":14000},{"t":2013.20,"q":12000},{"t":2013.24,"q":8000},{"t":2013.28,"q":6000},{"t":2013.32,"q":6000},{"t":2013.36,"q":8000},{"t":2013.40,"q":16000},{"t":2013.44,"q":20000},{"t":2013.48,"q":14000},{"t":2013.52,"q":12000},{"t":2013.56,"q":10000},{"t":2013.60,"q":8000},{"t":2013.64,"q":8000},{"t":2013.68,"q":6000},{"t":2013.74,"q":4000},{"t":2013.80,"q":4000},{"t":2013.86,"q":5000},{"t":2013.90,"q":6000},{"t":2013.94,"q":8000},{"t":2013.98,"q":12000},{"t":2014.02,"q":16000},{"t":2014.06,"q":14000},{"t":2014.10,"q":12000},{"t":2014.14,"q":10000},{"t":2014.18,"q":12000},{"t":2014.22,"q":16000},{"t":2014.26,"q":20000},{"t":2014.30,"q":24000},{"t":2014.34,"q":28000},{"t":2014.38,"q":24000},{"t":2014.42,"q":18000},{"t":2014.46,"q":16000},{"t":2014.50,"q":14000},{"t":2014.54,"q":10000},{"t":2014.58,"q":8000},{"t":2014.64,"q":6000},{"t":2014.70,"q":5000},{"t":2014.76,"q":5000},{"t":2014.82,"q":6000},{"t":2014.88,"q":6000},{"t":2014.94,"q":8000},{"t":2015.00,"q":10000},{"t":2015.04,"q":10000},{"t":2015.08,"q":8000},{"t":2015.12,"q":8000},{"t":2015.16,"q":10000},{"t":2015.20,"q":14000},{"t":2015.24,"q":18000},{"t":2015.28,"q":20000},{"t":2015.32,"q":12000},{"t":2015.36,"q":10000},{"t":2015.40,"q":8000},{"t":2015.44,"q":10000},{"t":2015.48,"q":12000},{"t":2015.52,"q":16000},{"t":2015.56,"q":10000},{"t":2015.60,"q":6000},{"t":2015.66,"q":4000},{"t":2015.72,"q":4000},{"t":2015.78,"q":4000},{"t":2015.84,"q":5000},{"t":2015.90,"q":6000},{"t":2015.96,"q":8000},{"t":2016.00,"q":12000},{"t":2016.04,"q":14000},{"t":2016.08,"q":10000},{"t":2016.12,"q":12000},{"t":2016.16,"q":16000},{"t":2016.20,"q":12000},{"t":2016.24,"q":10000},{"t":2016.28,"q":8000},{"t":2016.32,"q":10000},{"t":2016.36,"q":8000},{"t":2016.40,"q":6000},{"t":2016.46,"q":6000},{"t":2016.52,"q":5000},{"t":2016.58,"q":4000},{"t":2016.64,"q":4000},{"t":2016.70,"q":3600},{"t":2016.76,"q":3600},{"t":2016.82,"q":4000},{"t":2016.88,"q":5000},{"t":2016.94,"q":6000},{"t":2017.00,"q":8000},{"t":2017.04,"q":10000},{"t":2017.08,"q":12000},{"t":2017.12,"q":16000},{"t":2017.16,"q":20000},{"t":2017.20,"q":24000},{"t":2017.24,"q":28000},{"t":2017.28,"q":32000},{"t":2017.32,"q":24000},{"t":2017.36,"q":20000},{"t":2017.40,"q":16000},{"t":2017.44,"q":14000},{"t":2017.48,"q":12000},{"t":2017.52,"q":10000},{"t":2017.56,"q":12000},{"t":2017.60,"q":10000},{"t":2017.64,"q":8000},{"t":2017.67,"q":8000}],
"peaks":[{"t":1998.00,"q":55000},{"t":1998.02,"q":36000},{"t":1998.05,"q":30000},{"t":1998.08,"q":28000},{"t":1998.12,"q":34000},{"t":1998.15,"q":30000},{"t":1998.19,"q":52000},{"t":1998.23,"q":36000},{"t":1998.26,"q":34000},{"t":1998.28,"q":30000},{"t":1998.30,"q":36000},{"t":1998.33,"q":65000},{"t":1998.35,"q":40000},{"t":1998.40,"q":34000},{"t":1998.44,"q":22000},{"t":1998.47,"q":18000},{"t":1998.78,"q":8000},{"t":1999.04,"q":20000},{"t":1999.07,"q":54000},{"t":1999.10,"q":24000},{"t":1999.13,"q":22000},{"t":1999.18,"q":24000},{"t":1999.22,"q":32000},{"t":1999.25,"q":20000},{"t":1999.29,"q":16000},{"t":1999.40,"q":12000},{"t":1999.71,"q":75000},{"t":1999.77,"q":14000},{"t":1999.84,"q":16000},{"t":1999.90,"q":22000},{"t":1999.98,"q":14000},{"t":2000.04,"q":18000},{"t":2000.11,"q":16000},{"t":2000.14,"q":56000},{"t":2000.17,"q":42000},{"t":2000.21,"q":32000},{"t":2000.24,"q":30000},{"t":2000.27,"q":26000},{"t":2000.30,"q":30000},{"t":2000.33,"q":28000},{"t":2000.36,"q":24000},{"t":2000.39,"q":38000},{"t":2000.41,"q":34000},{"t":2000.46,"q":18000},{"t":2000.53,"q":14000},{"t":2000.58,"q":12000},{"t":2000.64,"q":18000},{"t":2000.97,"q":64000},{"t":2001.06,"q":14000},{"t":2001.14,"q":20000},{"t":2001.19,"q":36000},{"t":2001.22,"q":44000},{"t":2001.24,"q":42000},{"t":2001.27,"q":50000},{"t":2001.30,"q":24000},{"t":2001.33,"q":16000},{"t":2001.38,"q":12000},{"t":2002.15,"q":10000},{"t":2002.22,"q":18000},{"t":2002.27,"q":22000},{"t":2002.33,"q":26000},{"t":2002.38,"q":40000},{"t":2002.43,"q":34000},{"t":2002.47,"q":14000},{"t":2002.81,"q":36000},{"t":2002.84,"q":24000},{"t":2002.87,"q":34000},{"t":2002.92,"q":22000},{"t":2002.99,"q":38000},{"t":2003.05,"q":18000},{"t":2003.10,"q":14000},{"t":2003.16,"q":18000},{"t":2003.22,"q":79000},{"t":2003.24,"q":60000},{"t":2003.28,"q":26000},{"t":2003.33,"q":22000},{"t":2003.38,"q":30000},{"t":2003.42,"q":44000},{"t":2003.47,"q":58000},{"t":2003.52,"q":32000},{"t":2003.56,"q":28000},{"t":2003.61,"q":40000},{"t":2003.65,"q":26000},{"t":2003.69,"q":30000},{"t":2003.73,"q":50000},{"t":2003.78,"q":34000},{"t":2003.82,"q":78000},{"t":2003.86,"q":38000},{"t":2003.89,"q":30000},{"t":2003.93,"q":66000},{"t":2003.97,"q":64000},{"t":2004.02,"q":36000},{"t":2004.06,"q":54000},{"t":2004.10,"q":28000},{"t":2004.16,"q":32000},{"t":2004.20,"q":22000},{"t":2004.25,"q":18000},{"t":2004.31,"q":22000},{"t":2004.36,"q":16000},{"t":2004.56,"q":20000},{"t":2004.60,"q":52000},{"t":2004.64,"q":28000},{"t":2004.71,"q":178000},{"t":2004.73,"q":40000},{"t":2004.77,"q":26000},{"t":2004.84,"q":30000},{"t":2004.91,"q":56000},{"t":2004.95,"q":40000},{"t":2004.98,"q":34000},{"t":2005.02,"q":40000},{"t":2005.05,"q":88000},{"t":2005.08,"q":40000},{"t":2005.12,"q":26000},{"t":2005.18,"q":22000},{"t":2005.25,"q":230000},{"t":2005.28,"q":60000},{"t":2005.32,"q":26000},{"t":2005.36,"q":18000},{"t":2005.76,"q":78000},{"t":2005.79,"q":50000},{"t":2005.82,"q":30000},{"t":2005.86,"q":34000},{"t":2005.89,"q":32000},{"t":2005.92,"q":38000},{"t":2005.97,"q":30000},{"t":2006.01,"q":30000},{"t":2006.05,"q":80000},{"t":2006.08,"q":40000},{"t":2006.12,"q":26000},{"t":2006.20,"q":18000},{"t":2006.28,"q":22000},{"t":2006.32,"q":30000},{"t":2006.44,"q":18000},{"t":2006.49,"q":230000},{"t":2006.53,"q":70000},{"t":2006.57,"q":26000},{"t":2006.80,"q":36000},{"t":2006.84,"q":50000},{"t":2006.88,"q":34000},{"t":2006.91,"q":30000},{"t":2006.95,"q":40000},{"t":2006.99,"q":28000},{"t":2007.04,"q":36000},{"t":2007.08,"q":24000},{"t":2007.20,"q":22000},{"t":2007.24,"q":48000},{"t":2007.30,"q":110000},{"t":2007.31,"q":90000},{"t":2007.34,"q":30000},{"t":2007.38,"q":20000},{"t":2007.88,"q":24000},{"t":2007.92,"q":26000},{"t":2007.96,"q":40000},{"t":2008.01,"q":30000},{"t":2008.05,"q":32000},{"t":2008.09,"q":36000},{"t":2008.13,"q":42000},{"t":2008.17,"q":100000},{"t":2008.21,"q":54000},{"t":2008.25,"q":34000},{"t":2008.29,"q":26000},{"t":2008.35,"q":20000},{"t":2008.43,"q":16000},{"t":2008.52,"q":16000},{"t":2008.92,"q":86000},{"t":2008.95,"q":38000},{"t":2008.97,"q":30000},{"t":2009.02,"q":28000},{"t":2009.07,"q":26000},{"t":2009.14,"q":24000},{"t":2009.18,"q":28000},{"t":2009.28,"q":20000},{"t":2009.38,"q":22000},{"t":2009.42,"q":28000},{"t":2009.46,"q":40000},{"t":2009.52,"q":26000},{"t":2009.57,"q":40000},{"t":2009.84,"q":30000},{"t":2009.88,"q":28000},{"t":2009.92,"q":26000},{"t":2009.96,"q":30000},{"t":2010.00,"q":36000},{"t":2010.04,"q":30000},{"t":2010.08,"q":60000},{"t":2010.13,"q":30000},{"t":2010.17,"q":34000},{"t":2010.20,"q":72000},{"t":2010.22,"q":56000},{"t":2010.25,"q":54000},{"t":2010.29,"q":36000},{"t":2010.34,"q":24000},{"t":2010.77,"q":90000},{"t":2010.82,"q":20000},{"t":2010.87,"q":24000},{"t":2010.92,"q":58000},{"t":2010.96,"q":18000},{"t":2011.05,"q":18000},{"t":2011.12,"q":24000},{"t":2011.16,"q":44000},{"t":2011.19,"q":142000},{"t":2011.22,"q":80000},{"t":2011.26,"q":50000},{"t":2011.30,"q":62000},{"t":2011.33,"q":56000},{"t":2011.36,"q":40000},{"t":2011.39,"q":50000},{"t":2011.42,"q":30000},{"t":2011.45,"q":28000},{"t":2011.48,"q":40000},{"t":2011.53,"q":26000},{"t":2011.60,"q":22000},{"t":2011.67,"q":138000},{"t":2011.69,"q":172000},{"t":2011.72,"q":80000},{"t":2011.75,"q":86000},{"t":2011.78,"q":60000},{"t":2011.81,"q":44000},{"t":2011.85,"q":40000},{"t":2011.88,"q":34000},{"t":2011.92,"q":60000},{"t":2011.96,"q":36000},{"t":2012.03,"q":26000},{"t":2012.09,"q":20000},{"t":2012.18,"q":16000},{"t":2012.30,"q":14000},{"t":2012.37,"q":46000},{"t":2012.71,"q":30000},{"t":2012.80,"q":30000},{"t":2012.85,"q":20000},{"t":2012.90,"q":22000},{"t":2012.94,"q":54000},{"t":2013.00,"q":24000},{"t":2013.03,"q":52000},{"t":2013.07,"q":22000},{"t":2013.11,"q":20000},{"t":2013.15,"q":38000},{"t":2013.19,"q":24000},{"t":2013.37,"q":20000},{"t":2013.41,"q":54000},{"t":2013.46,"q":32000},{"t":2013.52,"q":22000},{"t":2013.58,"q":16000},{"t":2013.89,"q":30000},{"t":2014.00,"q":22000},{"t":2014.05,"q":40000},{"t":2014.09,"q":24000},{"t":2014.15,"q":20000},{"t":2014.21,"q":28000},{"t":2014.23,"q":36000},{"t":2014.26,"q":44000},{"t":2014.29,"q":30000},{"t":2014.31,"q":44000},{"t":2014.35,"q":74000},{"t":2014.38,"q":58000},{"t":2014.41,"q":58000},{"t":2014.44,"q":24000},{"t":2014.49,"q":22000},{"t":2015.14,"q":16000},{"t":2015.21,"q":20000},{"t":2015.26,"q":32000},{"t":2015.29,"q":34000},{"t":2015.34,"q":18000},{"t":2015.48,"q":24000},{"t":2015.52,"q":40000},{"t":2015.97,"q":18000},{"t":2016.02,"q":30000},{"t":2016.06,"q":22000},{"t":2016.10,"q":20000},{"t":2016.16,"q":66000},{"t":2016.19,"q":24000},{"t":2016.31,"q":16000},{"t":2017.05,"q":16000},{"t":2017.10,"q":22000},{"t":2017.16,"q":36000},{"t":2017.19,"q":30000},{"t":2017.22,"q":34000},{"t":2017.25,"q":42000},{"t":2017.28,"q":66000},{"t":2017.31,"q":50000},{"t":2017.34,"q":36000},{"t":2017.40,"q":24000},{"t":2017.45,"q":28000},{"t":2017.50,"q":18000},{"t":2017.54,"q":22000},{"t":2017.58,"q":20000},{"t":2017.62,"q":16000}]
},
"resolve":{"scale":{"y":"independent"},"axis":{"x":"independent"}},
"layer":[
{"layer":[
 {"data":{"name":"salt"},"mark":{"type":"line","color":"#ff0000","strokeWidth":1,"opacity":0.5,"clip":true},
  "encoding":{"x":{"field":"t","type":"quantitative","scale":{"domain":[1998,2018],"nice":false,"zero":false},"axis":{"orient":"bottom","title":null,"values":[1998,1999,2000,2001,2002,2003,2004,2005,2006,2007,2008,2009,2010,2011,2012,2013,2014,2015,2016,2017,2018],"labelExpr":"datum.value == 2018 ? '12/31/2017' : '1/1/' + datum.value","grid":true,"labelPadding":2,"labelFlush":false}},
   "y":{"field":"s","type":"quantitative","scale":{"domain":[0,100],"nice":false,"zero":true},"axis":{"orient":"left","values":[0,10,20,30,40,50,60,70,80,90,100],"grid":true,"title":"Salt Line Location, DRBC River Miles","titleColor":"#ff0000","titleFontSize":12,"titlePadding":6,"labelPadding":2}}}},
 {"data":{"name":"salt"},"mark":{"type":"point","shape":"triangle-up","filled":true,"color":"#ff0000","size":45,"opacity":1,"clip":true},
  "encoding":{"x":{"field":"t","type":"quantitative"},"y":{"field":"s","type":"quantitative"}}},
 {"data":{"name":"labels"},"transform":[{"filter":"datum.rm == 100"}],"mark":{"type":"text","align":"left","baseline":"middle","dx":13,"dy":2,"fontSize":10,"fontWeight":"bold","color":"#1a1a1a","font":"Liberation Sans"},
  "encoding":{"x":{"datum":1998},"y":{"field":"rm","type":"quantitative"},"text":{"field":"name"}}},
 {"data":{"name":"labels"},"transform":[{"filter":"datum.rm == 92"}],"mark":{"type":"text","align":"left","baseline":"middle","dx":8,"dy":-6,"fontSize":10,"fontWeight":"bold","color":"#1a1a1a","font":"Liberation Sans"},
  "encoding":{"x":{"datum":1998},"y":{"field":"rm","type":"quantitative"},"text":{"field":"name"}}},
 {"data":{"name":"labels"},"transform":[{"filter":"datum.rm < 90"}],"mark":{"type":"text","align":"left","baseline":"middle","dx":3,"fontSize":10,"fontWeight":"bold","color":"#1a1a1a","font":"Liberation Sans"},
  "encoding":{"x":{"datum":1998},"y":{"field":"rm","type":"quantitative"},"text":{"field":"name"}}}
]},
{"layer":[
 {"data":{"name":"base"},"mark":{"type":"area","color":"#0000ff","opacity":1,"clip":true},
  "encoding":{"x":{"field":"t","type":"quantitative","scale":{"domain":[1998,2018],"nice":false,"zero":false},"axis":{"orient":"top","title":"Salt Line: 7-Day Average Location of 250 PPM Isochlor (~1:75 dilution of seawater)","titleFontStyle":"italic","titleFontSize":9.5,"titleColor":"#000","titlePadding":11,"labels":false,"ticks":false,"domain":false,"grid":false}},
   "y":{"field":"q","type":"quantitative","scale":{"domain":[0,200000],"nice":false,"zero":true},"axis":{"orient":"right","values":[0,20000,40000,60000,80000,100000,120000,140000,160000,180000,200000],"labelExpr":"format(datum.value, ',')","grid":false,"title":"Trenton Mean Daily Q (cfs)","titleColor":"#0000ff","titleFontSize":12,"titleAngle":270,"titlePadding":16,"labelPadding":2}}}},
 {"data":{"name":"peaks"},"mark":{"type":"rule","color":"#0000ff","opacity":0.55,"strokeWidth":1.2,"clip":true},
  "encoding":{"x":{"field":"t","type":"quantitative"},"y":{"field":"q","type":"quantitative","axis":{"orient":"right","values":[0,20000,40000,60000,80000,100000,120000,140000,160000,180000,200000],"labelExpr":"format(datum.value, ',')","grid":false,"title":"Trenton Mean Daily Q (cfs)","titleColor":"#0000ff","titleFontSize":12,"titleAngle":270,"titlePadding":16,"labelPadding":2}},"y2":{"datum":0}}}
]}
]
}
